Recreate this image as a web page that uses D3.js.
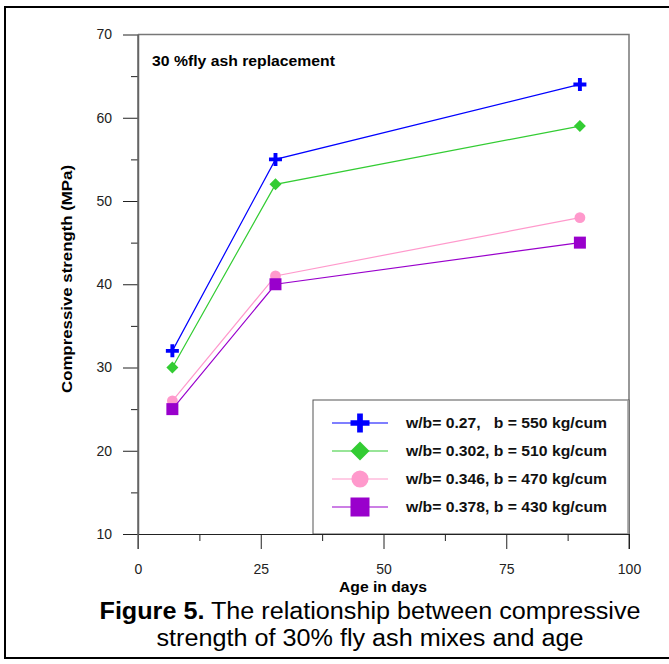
<!DOCTYPE html>
<html>
<head>
<meta charset="utf-8">
<script src="https://cdn.jsdelivr.net/npm/d3@7"></script>
<style>
body { margin: 0; background: #fff; }
svg text { font-family: "Liberation Sans", Arial, sans-serif; }
</style>
</head>
<body>
<div id="viz"></div>
<script>
// chart data
var ageDays = [7, 28, 90];
var seriesNames = [
	"w/b= 0.27,   b = 550 kg/cum",
	"w/b= 0.302, b = 510 kg/cum",
	"w/b= 0.346, b = 470 kg/cum",
	"w/b= 0.378, b = 430 kg/cum"
];
var strengthWb027 = [32, 55, 64];
var strengthWb0302 = [30, 52, 59];
var strengthWb0346 = [26, 41, 48];
var strengthWb0378 = [25, 40, 45];
var xTicks = [0, 25, 50, 75, 100];
var yTicks = [10, 20, 30, 40, 50, 60, 70];

var seriesColors = ["#0000ff", "#33cc33", "#ff99cc", "#9900cc"];
var seriesShapes = ["plus", "diamond", "circle", "square"];
var seriesValues = [strengthWb027, strengthWb0302, strengthWb0346, strengthWb0378];

var svg = d3.select("#viz")
	.append("svg")
	.attr("width", 669)
	.attr("height", 664);

// outer frame
svg.append("rect")
	.attr("x", 5).attr("y", 7)
	.attr("width", 680).attr("height", 651)
	.attr("fill", "none")
	.attr("stroke", "#000")
	.attr("stroke-width", 2);

var x = d3.scaleLinear().domain([0, 100]).range([138, 629]);
var y = d3.scaleLinear().domain([10, 70]).range([534, 34.5]);

// plot frame (top and right)
svg.append("path")
	.attr("d", "M" + x(0) + "," + y(70) + "H" + x(100) + "V" + (y(10) + 15))
	.attr("fill", "none")
	.attr("stroke", "#777")
	.attr("stroke-width", 1.5);

// legend box (drawn before the axes so the axis line sits on top)
var legend = svg.append("g");
legend.append("rect")
	.attr("x", 313).attr("y", 400)
	.attr("width", x(100) - 313).attr("height", y(10) - 400)
	.attr("fill", "#fff")
	.attr("stroke", "#555")
	.attr("stroke-width", 1);
legend.append("line")
	.attr("x1", x(100) - 1).attr("x2", x(100) - 1)
	.attr("y1", 400).attr("y2", y(10))
	.attr("stroke", "#999").attr("stroke-width", 1.5);

// y axis
var yAxis = svg.append("g")
	.attr("transform", "translate(" + x(0) + ",0)")
	.call(d3.axisLeft(y).tickValues(yTicks).tickSize(15).tickPadding(11).tickSizeOuter(0));
svg.append("g")
	.attr("transform", "translate(" + x(0) + ",0)")
	.call(d3.axisLeft(y).tickValues([15, 25, 35, 45, 55, 65]).tickSize(7).tickFormat("").tickSizeOuter(0))
	.select(".domain").remove();

// x axis
var xAxis = svg.append("g")
	.attr("transform", "translate(0," + y(10) + ")")
	.call(d3.axisBottom(x).tickValues(xTicks).tickSize(15).tickPadding(15).tickSizeOuter(0));
svg.append("g")
	.attr("transform", "translate(0," + y(10) + ")")
	.call(d3.axisBottom(x).tickValues([12.5, 37.5, 62.5, 87.5]).tickSize(7).tickFormat("").tickSizeOuter(0))
	.select(".domain").remove();

// extend the y axis line below the x axis like in the original
svg.append("line")
	.attr("x1", x(0)).attr("x2", x(0))
	.attr("y1", y(70)).attr("y2", y(10) + 15)
	.attr("stroke", "#666").attr("stroke-width", 1.5);

svg.selectAll(".tick line").attr("stroke", "#222");
yAxis.select(".domain").attr("stroke", "#666").attr("stroke-width", 1.5);
xAxis.select(".domain").attr("stroke", "#222");
svg.selectAll(".tick text")
	.attr("font-size", 14)
	.attr("fill", "#222")
	.style("font-family", "'Liberation Sans', Arial, sans-serif");

// axis titles
svg.append("text")
	.attr("transform", "translate(72,279) rotate(-90)")
	.attr("text-anchor", "middle")
	.attr("font-size", 15).attr("font-weight", "bold")
	.attr("textLength", 228).attr("lengthAdjust", "spacingAndGlyphs")
	.text("Compressive strength (MPa)");

svg.append("text")
	.attr("x", 383).attr("y", 592)
	.attr("text-anchor", "middle")
	.attr("font-size", 14).attr("font-weight", "bold")
	.attr("textLength", 88).attr("lengthAdjust", "spacingAndGlyphs")
	.text("Age in days");

svg.append("text")
	.attr("x", 152).attr("y", 66)
	.attr("font-size", 15).attr("font-weight", "bold")
	.attr("textLength", 183).attr("lengthAdjust", "spacingAndGlyphs")
	.text("30 %fly ash replacement");

// draws one marker shape centred on 0,0
function drawMarker(g, shape, color, s){
	if(shape == "plus"){
		g.append("path")
			.attr("d", "M" + (-s / 2) + ",0H" + (s / 2) + "M0," + (-s / 2) + "V" + (s / 2))
			.attr("stroke", color).attr("stroke-width", s * 0.3).attr("fill", "none");
	} else if(shape == "diamond"){
		g.append("path")
			.attr("d", d3.symbol().type(d3.symbolSquare).size(s * s * 0.5)())
			.attr("transform", "rotate(45)")
			.attr("fill", color);
	} else if(shape == "circle"){
		g.append("circle").attr("r", s * 0.45).attr("fill", color);
	} else {
		g.append("rect")
			.attr("x", -s / 2).attr("y", -s / 2)
			.attr("width", s).attr("height", s)
			.attr("fill", color);
	}
}

var line = d3.line()
	.x(function(d, i){ return x(ageDays[i]); })
	.y(function(d){ return y(d); });

seriesValues.forEach(function(vals, k){
	svg.append("path")
		.datum(vals)
		.attr("d", line)
		.attr("fill", "none")
		.attr("stroke", seriesColors[k])
		.attr("stroke-width", 1.2);
	vals.forEach(function(v, i){
		var g = svg.append("g")
			.attr("transform", "translate(" + x(ageDays[i]) + "," + y(v) + ")");
		drawMarker(g, seriesShapes[k], seriesColors[k], k == 0 ? 13 : 12);
	});
});

// legend entries
var legendRowY = [423, 451, 479, 507];
seriesNames.forEach(function(name, k){
	legend.append("line")
		.attr("x1", 332).attr("x2", 388)
		.attr("y1", legendRowY[k]).attr("y2", legendRowY[k])
		.attr("stroke", seriesColors[k]).attr("stroke-width", 1.2);
	var g = legend.append("g")
		.attr("transform", "translate(360," + legendRowY[k] + ")");
	drawMarker(g, seriesShapes[k], seriesColors[k], 19);
	legend.append("text")
		.attr("x", 406).attr("y", legendRowY[k] + 5)
		.attr("font-size", 14.5).attr("font-weight", "bold")
		.attr("fill", "#111")
		.attr("textLength", 201).attr("lengthAdjust", "spacingAndGlyphs")
		.style("white-space", "pre")
		.text(name);
});

// caption
var cap1 = svg.append("text")
	.attr("x", 370).attr("y", 619)
	.attr("text-anchor", "middle")
	.attr("font-size", 23)
	.attr("textLength", 541).attr("lengthAdjust", "spacingAndGlyphs");
cap1.append("tspan").attr("font-weight", "bold").text("Figure 5.");
cap1.append("tspan").text(" The relationship between compressive");

svg.append("text")
	.attr("x", 370).attr("y", 646)
	.attr("text-anchor", "middle")
	.attr("font-size", 23)
	.attr("textLength", 427).attr("lengthAdjust", "spacingAndGlyphs")
	.text("strength of 30% fly ash mixes and age");
</script>
</body>
</html>
